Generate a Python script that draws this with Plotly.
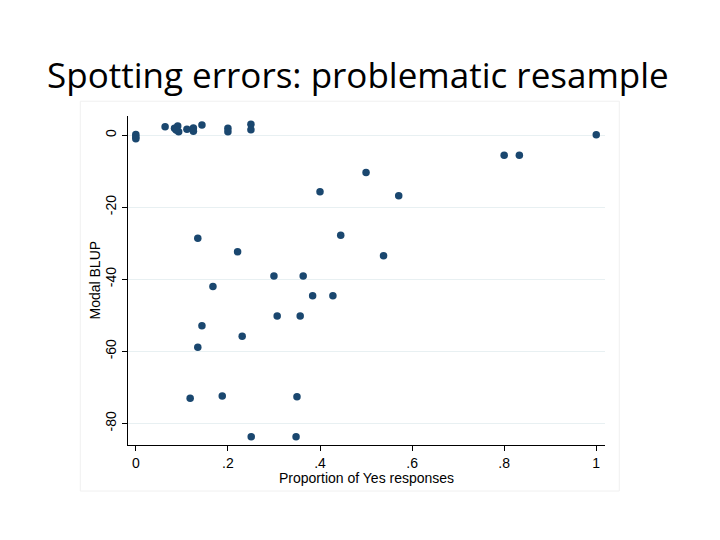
import plotly.graph_objects as go

# Proportion of Yes responses
prop_yes = [0.0, 0.0, 0.0, 0.0636, 0.084, 0.091, 0.093, 0.0875, 0.111, 0.125, 0.125,
            0.1436, 0.2, 0.2, 0.25, 0.25, 1.0, 0.8, 0.833, 0.5, 0.4, 0.571, 0.445,
            0.1346, 0.221, 0.538, 0.3, 0.3635, 0.1675, 0.384, 0.428, 0.307, 0.357,
            0.1436, 0.231, 0.1346, 0.118, 0.1877, 0.35, 0.2506, 0.348]
# Modal BLUP
modal_blup = [0.2, -0.5, -1.0, 2.3, 1.9, 2.5, 0.9, 1.4, 1.6, 2.0, 1.1,
              2.8, 1.9, 0.9, 3.0, 1.5, 0.1, -5.6, -5.6, -10.4, -15.7, -16.8, -27.8,
              -28.6, -32.4, -33.5, -39.1, -39.1, -42.0, -44.6, -44.6, -50.2, -50.2,
              -52.9, -55.8, -58.9, -73.0, -72.4, -72.6, -83.7, -83.7]

x_tick_vals = [0, 0.2, 0.4, 0.6, 0.8, 1]
x_tick_text = ["0", ".2", ".4", ".6", ".8", "1"]
y_tick_vals = [0, -20, -40, -60, -80]
y_tick_text = ["0", "-20", "-40", "-60", "-80"]

title_text = "Spotting errors: problematic resample"
x_title = "Proportion of Yes responses"
y_title = "Modal BLUP"

fig = go.Figure()
fig.add_trace(go.Scatter(
    x=prop_yes, y=modal_blup, mode="markers",
    marker=dict(color="#1a476f", size=7.5, line=dict(width=0)),
    showlegend=False,
))

fig.update_layout(
    width=720, height=540,
    paper_bgcolor="white", plot_bgcolor="white",
    margin=dict(l=120, r=123, t=108, b=103, autoexpand=False),
    title=dict(text=title_text, x=0.486, xanchor="center", y=0.874, yanchor="middle",
               font=dict(family="Open Sans, Lato, sans-serif", size=35, color="black")),
    font=dict(family="Liberation Sans, Arial, sans-serif", color="black"),
    shapes=[dict(type="rect", xref="paper", yref="paper",
                 x0=-0.1, x1=1.03, y0=-0.14, y1=1.045,
                 line=dict(color="#f0f0f0", width=1), layer="below")],
    annotations=[
        dict(text=x_title, xref="paper", yref="paper", x=0.501, y=0,
             xanchor="center", yanchor="middle", yshift=-33, showarrow=False,
             font=dict(size=14)),
        dict(text=y_title, xref="paper", yref="paper", x=0, y=0.5,
             xanchor="center", yanchor="middle", xshift=-34, textangle=-90,
             showarrow=False, font=dict(size=14)),
    ],
)

fig.update_xaxes(
    range=[-0.017, 1.019], tickvals=x_tick_vals, ticktext=x_tick_text,
    showgrid=False, zeroline=False, showline=True, linecolor="black", linewidth=1,
    ticks="outside", ticklen=5, tickcolor="black", automargin=False,
    tickfont=dict(size=14),
)
fig.update_yaxes(
    range=[-86, 5.3], tickvals=y_tick_vals, ticktext=y_tick_text,
    showgrid=True, gridcolor="#e8f0f2", gridwidth=1, zeroline=False,
    showline=True, linecolor="black", linewidth=1, automargin=False,
    ticks="outside", ticklen=5, tickcolor="black", tickangle=-90,
    tickfont=dict(size=14),
)

fig.write_html("out.html")
